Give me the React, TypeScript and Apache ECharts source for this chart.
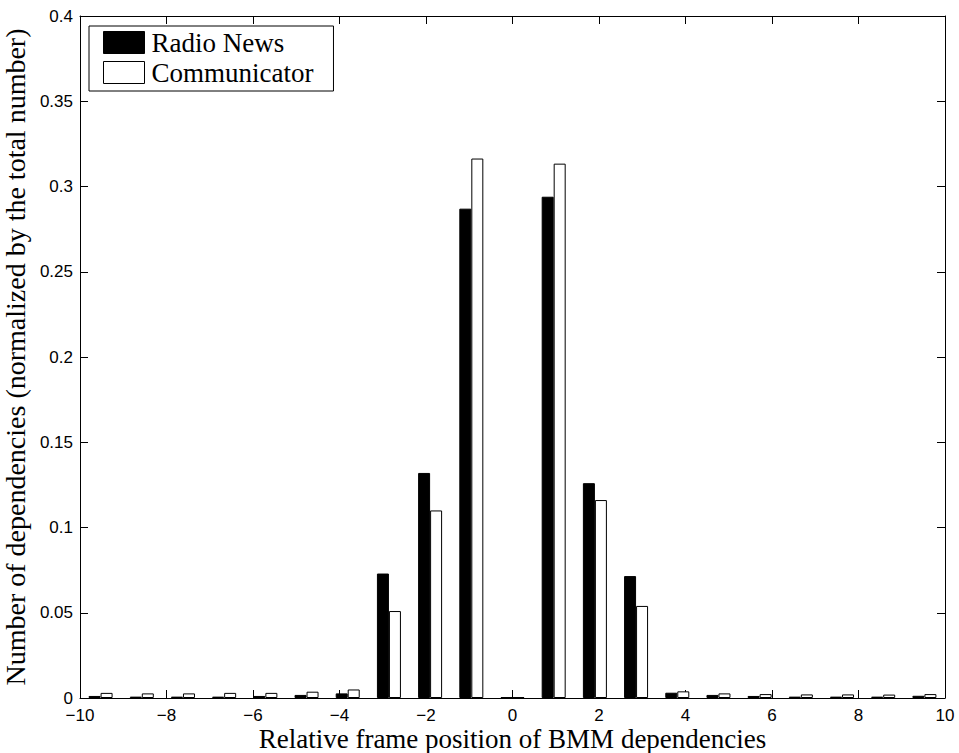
import React, { useEffect, useRef } from "react";
import * as echarts from "echarts";

const BIN_CENTERS = [
  -9.524, -8.571, -7.619, -6.667, -5.714, -4.762, -3.81, -2.857, -1.905, -0.952, 0,
  0.952, 1.905, 2.857, 3.81, 4.762, 5.714, 6.667, 7.619, 8.571, 9.524,
];
const RADIO_NEWS = [
  0.0012, 0.0008, 0.0008, 0.0008, 0.0012, 0.0018, 0.0027, 0.073, 0.132, 0.287, 0.0005,
  0.294, 0.126, 0.0715, 0.0031, 0.0018, 0.0012, 0.0008, 0.0008, 0.0008, 0.0013,
];
const COMMUNICATOR = [
  0.003, 0.0027, 0.0027, 0.003, 0.003, 0.0037, 0.005, 0.051, 0.11, 0.3164, 0.0005,
  0.3134, 0.1161, 0.054, 0.0039, 0.0027, 0.0023, 0.0021, 0.0021, 0.002, 0.0023,
];
const SERIES_NAMES = ["Radio News", "Communicator"];
const X_TITLE = "Relative frame position of BMM dependencies";
const Y_TITLE = "Number of dependencies (normalized by the total number)";

const SANS = "'Liberation Sans', Arial, sans-serif";
const SERIF = "'Liberation Serif', 'Times New Roman', serif";

const fmtX = (v: number) => (v < 0 ? "\u2212" + Math.abs(v) : String(v));

export default function App() {
  const ref = useRef<HTMLDivElement>(null);
  useEffect(() => {
    if (!ref.current) return;
    const chart = echarts.init(ref.current, null, { renderer: "svg" });
    const tick = { show: true, inside: true, length: 8, lineStyle: { color: "#000", width: 1 } };
    const axisLine = { show: true, onZero: false, lineStyle: { color: "#000", width: 1 } };
    const xBase = { type: "value" as const, min: -10, max: 10, interval: 2, splitLine: { show: false }, axisLine, axisTick: tick };
    const yBase = { type: "value" as const, min: 0, max: 0.4, interval: 0.05, splitLine: { show: false }, axisLine, axisTick: tick };
    chart.setOption({
      animation: false,
      backgroundColor: "#fff",
      grid: { left: 80, right: 14, top: 16, bottom: 55, containLabel: false, outerBoundsMode: "none" },
      legend: {
        left: 89,
        top: 26,
        orient: "vertical",
        backgroundColor: "#fff",
        borderColor: "#000",
        borderWidth: 1,
        borderRadius: 0,
        padding: [3, 20, 5, 14],
        itemGap: 3,
        itemWidth: 41,
        itemHeight: 22,
        icon: "rect",
        selectedMode: false,
        textStyle: { fontFamily: SERIF, fontSize: 27, color: "#000", padding: [0, 0, 0, 2] },
        data: [
          { name: SERIES_NAMES[0], itemStyle: { color: "#000", borderColor: "#000", borderWidth: 1 } },
          { name: SERIES_NAMES[1], itemStyle: { color: "#fff", borderColor: "#000", borderWidth: 1 } },
        ],
      },
      xAxis: [
        {
          ...xBase,
          position: "bottom",
          name: X_TITLE,
          nameLocation: "middle",
          nameGap: 27,
          nameMoveOverlap: false,
          nameTextStyle: { fontFamily: SERIF, fontSize: 27, color: "#000" },
          axisLabel: { fontFamily: SANS, fontSize: 17, color: "#000", margin: 9, formatter: fmtX },
        },
        { ...xBase, position: "top", axisLabel: { show: false } },
      ],
      yAxis: [
        {
          ...yBase,
          position: "left",
          name: Y_TITLE,
          nameLocation: "middle",
          nameGap: 44,
          nameTextStyle: { fontFamily: SERIF, fontSize: 28, color: "#000" },
          axisLabel: { fontFamily: SANS, fontSize: 17, color: "#000", margin: 7 },
        },
        { ...yBase, position: "right", axisLabel: { show: false } },
      ],
      series: [
        {
          name: SERIES_NAMES[0],
          type: "bar",
          xAxisIndex: 0,
          yAxisIndex: 0,
          barWidth: 12,
          barGap: "0%",
          itemStyle: { color: "#000", borderColor: "#000", borderWidth: 1 },
          data: BIN_CENTERS.map((x, i) => [x, RADIO_NEWS[i]]),
        },
        {
          name: SERIES_NAMES[1],
          type: "bar",
          xAxisIndex: 0,
          yAxisIndex: 0,
          barWidth: 12,
          barGap: "0%",
          itemStyle: { color: "#fff", borderColor: "#000", borderWidth: 1 },
          data: BIN_CENTERS.map((x, i) => [x, COMMUNICATOR[i]]),
        },
      ],
    });
    return () => chart.dispose();
  }, []);
  return (
    <div
      ref={ref}
      style={{ position: "fixed", left: 0, top: 0, width: 959, height: 753, background: "#fff" }}
    />
  );
}
